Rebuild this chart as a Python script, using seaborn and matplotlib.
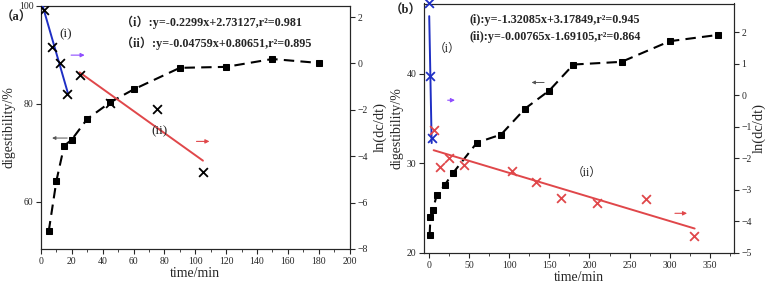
import numpy as np
import pandas as pd
import seaborn as sns
import matplotlib
matplotlib.use("Agg")
import matplotlib.pyplot as plt
from matplotlib.ticker import AutoMinorLocator, MultipleLocator

# ---------------- data ----------------
# panel (a)
a_time_dig = [5, 10, 15, 20, 30, 45, 60, 90, 120, 150, 180]
a_dig = [54.0, 64.3, 71.4, 72.7, 76.9, 80.3, 82.9, 87.3, 87.5, 89.1, 88.3]
a_time_ln = [2, 7, 12, 17, 25, 45, 75, 105]
a_ln = [2.29, 0.71, 0.03, -1.33, -0.51, -1.69, -1.96, -4.66]
a_fit_i = dict(slope=-0.2299, intercept=2.73127, x0=1.0, x1=17.7)
a_fit_ii = dict(slope=-0.04759, intercept=0.80651, x0=25.0, x1=105.0)
a_eq_i = "（i）:y=-0.2299x+2.73127,r²=0.981"
a_eq_ii = "（ii）:y=-0.04759x+0.80651,r²=0.895"

# panel (b)
b_time_dig = [1, 2, 5, 10, 20, 30, 60, 90, 120, 150, 180, 240, 300, 360]
b_dig = [22.0, 24.0, 24.8, 26.5, 27.6, 28.9, 32.3, 33.2, 36.1, 38.1, 41.0, 41.3, 43.6, 44.3]
b_time_ln_i = [0.2, 1.9, 3.4]
b_ln_i = [2.95, 0.61, -1.35]
b_time_ln_ii = [6, 14, 25, 44, 104, 134, 165, 210, 270, 330]
b_ln_ii = [-1.11, -2.28, -1.98, -2.21, -2.40, -2.76, -3.25, -3.40, -3.29, -4.47]
b_fit_i = dict(slope=-1.32085, intercept=3.17849, x0=0.5, x1=3.55)
b_fit_ii = dict(slope=-0.00765, intercept=-1.69105, x0=6.0, x1=331.0)
b_eq_i = "(i):y=-1.32085x+3.17849,r²=0.945"
b_eq_ii = "(ii):y=-0.00765x-1.69105,r²=0.864"

# ---------------- style ----------------
sns.set_style("ticks")
plt.rcParams["font.family"] = ["Liberation Serif", "Noto Sans CJK SC"]
plt.rcParams["axes.linewidth"] = 0.8
plt.rcParams["xtick.major.width"] = 0.8
plt.rcParams["ytick.major.width"] = 0.8
plt.rcParams["xtick.major.size"] = 3.5
plt.rcParams["ytick.major.size"] = 3.5
plt.rcParams["xtick.minor.size"] = 2
plt.rcParams["xtick.labelsize"] = 7
plt.rcParams["ytick.labelsize"] = 7

W, H = 767, 284
fig = plt.figure(figsize=(W / 100, H / 100), dpi=100)

def px_axes(l, t, r, b):
    return fig.add_axes([l / W, 1 - b / H, (r - l) / W, (b - t) / H])

BLUE = "#1f2fc4"
RED = "#e0474a"
PURPLE = "#8f4dff"

def fit_df(f):
    x = np.array([f["x0"], f["x1"]])
    return pd.DataFrame({"x": x, "y": f["slope"] * x + f["intercept"]})

def draw_panel(ax, t_dig, dig, xlim, ylim, y2lim, xmaj, yticks, y2ticks):
    ax2 = ax.twinx()
    df = pd.DataFrame({"t": t_dig, "d": dig})
    sns.lineplot(data=df, x="t", y="d", ax=ax, color="black", marker="s",
                 markersize=4.5, markeredgecolor="black", linewidth=1.5,
                 dashes=(5, 3), zorder=3)
    ax.set_xlim(*xlim)
    ax.set_ylim(*ylim)
    ax2.set_ylim(*y2lim)
    ax.xaxis.set_major_locator(MultipleLocator(xmaj))
    ax.xaxis.set_minor_locator(AutoMinorLocator(2))
    ax.set_yticks(yticks)
    ax2.set_yticks(y2ticks)
    ax.set_xlabel("time/min", fontsize=10, labelpad=1)
    ax.set_ylabel("digestibility/%", fontsize=10, labelpad=2)
    ax.tick_params(axis="both", pad=2)
    ax2.tick_params(axis="y", pad=2)
    for s in ax.spines.values():
        s.set_visible(True)
        s.set_linewidth(0.8)
    for s in ax2.spines.values():
        s.set_visible(True)
        s.set_linewidth(0.8)
    return ax2

# ---------------- panel (a) ----------------
axA = px_axes(41, 5.5, 349.5, 249)
axA2 = draw_panel(axA, a_time_dig, a_dig, (0, 200), (50.4, 100.0), (-8, 2.5), 20,
                  [60, 80, 100], [-8, -6, -4, -2, 0, 2])
axA2.set_ylabel("ln(dc/dt)", fontsize=10.5, labelpad=4)
sns.scatterplot(x=a_time_ln, y=a_ln, ax=axA2, marker="x", color="black",
                s=40, linewidth=1.3, zorder=4)
for f, c in ((a_fit_i, BLUE), (a_fit_ii, RED)):
    d = fit_df(f)
    sns.lineplot(data=d, x="x", y="y", ax=axA2, color=c, linewidth=1.4, zorder=3)
axA2.set_xlabel("")
axA2.annotate("", xy=(30.1, 0.36), xytext=(17.7, 0.36),
              arrowprops=dict(arrowstyle="-|>", color=PURPLE, lw=0.8, mutation_scale=6))
axA.annotate("", xy=(5.4, 73.0), xytext=(18.8, 73.0),
             arrowprops=dict(arrowstyle="-|>", color="#555555", lw=0.7, mutation_scale=5))
axA2.annotate("", xy=(111, -3.36), xytext=(99, -3.36),
              arrowprops=dict(arrowstyle="-|>", color=RED, lw=0.8, mutation_scale=6))

# ---------------- panel (b) ----------------
axB = px_axes(424, 3.5, 734, 253)
axB2 = draw_panel(axB, b_time_dig, b_dig, (-6, 380), (20, 47.8), (-5, 2.92), 50,
                  [20, 30, 40], [-5, -4, -3, -2, -1, 0, 1, 2])
axB2.set_ylabel("ln(dc/dt)", fontsize=10.5, labelpad=0)
sns.scatterplot(x=b_time_ln_i, y=b_ln_i, ax=axB2, marker="x", color=BLUE,
                s=40, linewidth=1.3, zorder=4, clip_on=False)
sns.scatterplot(x=b_time_ln_ii, y=b_ln_ii, ax=axB2, marker="x", color=RED,
                s=40, linewidth=1.3, zorder=4)
for f, c in ((b_fit_i, BLUE), (b_fit_ii, RED)):
    d = fit_df(f)
    sns.lineplot(data=d, x="x", y="y", ax=axB2, color=c, linewidth=1.4, zorder=3)
axB2.set_xlabel("")
axB2.annotate("", xy=(36, -0.15), xytext=(20, -0.15),
              arrowprops=dict(arrowstyle="-|>", color=PURPLE, lw=0.8, mutation_scale=6))
axB.annotate("", xy=(124.5, 39.0), xytext=(147, 39.0),
             arrowprops=dict(arrowstyle="-|>", color="#555555", lw=0.7, mutation_scale=5))
axB2.annotate("", xy=(325, -3.74), xytext=(303, -3.74),
              arrowprops=dict(arrowstyle="-|>", color=RED, lw=0.8, mutation_scale=6))

# ---------------- texts ----------------
def ftext(x, y, s, **kw):
    fig.text(x / W, 1 - y / H, s, va="center", **kw)

ftext(1, 18, "（a）", fontsize=9, fontweight="bold", ha="left")
ftext(121, 22, a_eq_i, fontsize=8.7, fontweight="bold", ha="left")
ftext(121, 43, a_eq_ii, fontsize=8.7, fontweight="bold", ha="left")
ftext(66, 34, "(i)", fontsize=9.5, ha="center")
ftext(159, 131, "(ii)", fontsize=9.5, ha="center")

ftext(390, 11, "（b）", fontsize=9, fontweight="bold", ha="left")
ftext(469, 19.5, b_eq_i, fontsize=8.7, fontweight="bold", ha="left")
ftext(469, 37, b_eq_ii, fontsize=8.7, fontweight="bold", ha="left")
ftext(447, 49, "（i）", fontsize=8.5, ha="center")
ftext(587, 173, "（ii）", fontsize=8.5, ha="center")

fig.savefig("out.png", dpi=100)
